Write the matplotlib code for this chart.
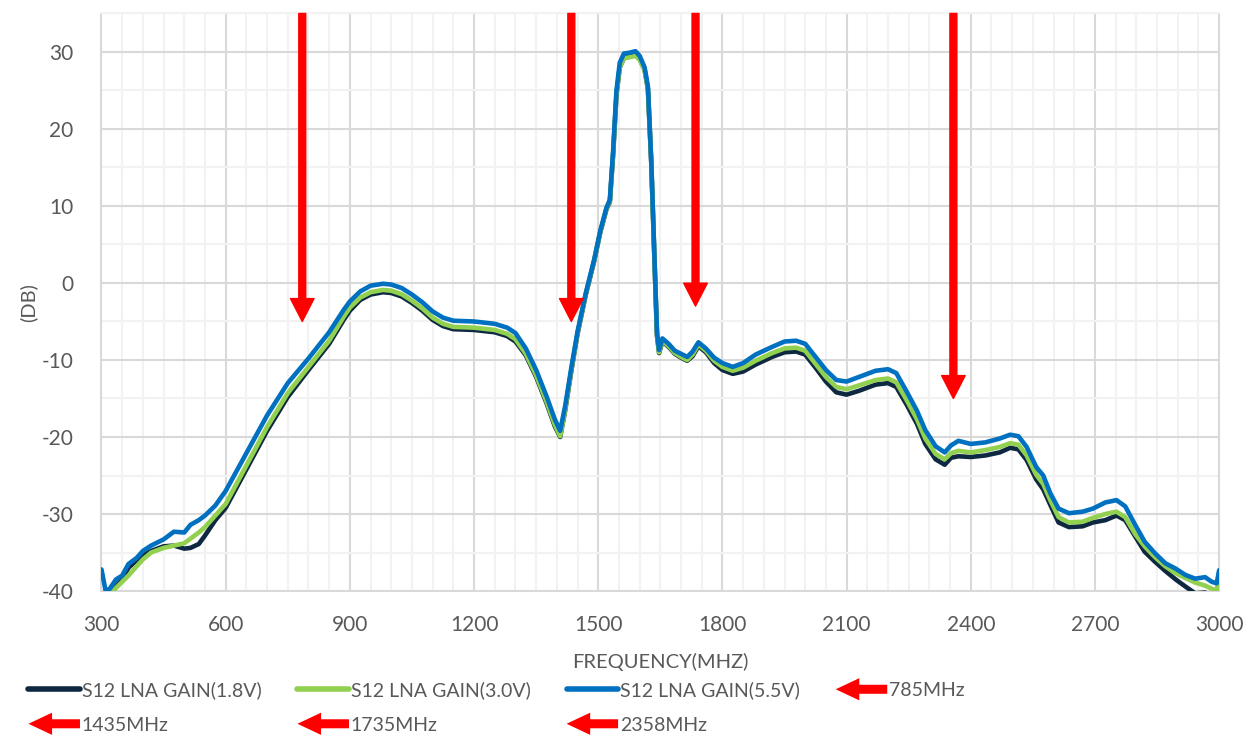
import numpy as np
import matplotlib
matplotlib.use('Agg')
import matplotlib.pyplot as plt
import matplotlib.patches as mpatches
from matplotlib.lines import Line2D
from matplotlib.legend_handler import HandlerPatch
from matplotlib.ticker import MultipleLocator

plt.rcParams['font.family'] = ['Lato', 'DejaVu Sans']
plt.rcParams['axes.unicode_minus'] = False

# sweep points (MHz)
freq = [300, 310, 320, 335, 350, 365, 385, 400, 420, 450, 475, 500, 515, 535, 550, 575,
        600, 650, 700, 750, 800, 850, 885, 900, 925, 950, 980, 1000, 1025, 1050, 1075,
        1100, 1125, 1150, 1200, 1250, 1280, 1300, 1325, 1350, 1375, 1395, 1408, 1420,
        1435, 1450, 1470, 1490, 1505, 1520, 1528, 1536, 1544, 1552, 1562, 1575, 1590,
        1600, 1612, 1620, 1628, 1636, 1642, 1647, 1655, 1670, 1685, 1700, 1715, 1728,
        1742, 1760, 1780, 1800, 1825, 1850, 1880, 1920, 1950, 1978, 2000, 2025, 2050,
        2075, 2100, 2130, 2170, 2200, 2220, 2245, 2270, 2290, 2315, 2337, 2352, 2370,
        2400, 2435, 2470, 2495, 2515, 2535, 2558, 2575, 2592, 2612, 2637, 2670, 2695,
        2725, 2752, 2773, 2797, 2820, 2845, 2870, 2895, 2918, 2942, 2966, 2982, 2994, 3000]

gain_18v = [-42.0, -41.2, -40.6, -39.4, -38.5, -37.0, -36.0, -35.4, -34.8, -34.2, -34.1,
            -34.5, -34.4, -33.9, -32.8, -30.8, -29.2, -24.2, -19.2, -14.8, -11.3, -7.9,
            -4.8, -3.6, -2.2, -1.5, -1.2, -1.3, -1.75, -2.6, -3.6, -4.8, -5.6, -6.0,
            -6.1, -6.4, -6.9, -7.6, -9.4, -12.2, -15.6, -18.6, -20.0, -16.6, -11.4,
            -6.6, -1.5, 2.8, 6.6, 9.6, 10.5, 16.7, 24.4, 28.0, 29.2, 29.4, 29.6, 29.1,
            27.7, 25.2, 15.7, 2.7, -6.9, -9.1, -7.6, -8.3, -9.2, -9.7, -10.1, -9.5,
            -8.2, -9.0, -10.4, -11.3, -11.8, -11.5, -10.6, -9.6, -9.0, -8.9, -9.3,
            -11.0, -12.8, -14.2, -14.5, -14.0, -13.2, -13.0, -13.5, -15.8, -18.3,
            -20.9, -22.9, -23.6, -22.7, -22.5, -22.6, -22.4, -22.0, -21.4, -21.6,
            -23.0, -25.5, -26.8, -28.8, -31.1, -31.7, -31.6, -31.1, -30.8, -30.2,
            -30.8, -32.9, -34.9, -36.2, -37.4, -38.5, -39.4, -40.3, -40.2, -40.6,
            -41.0, -41.5]

gain_30v = [-41.5, -41.0, -40.5, -39.6, -38.8, -38.0, -36.8, -35.9, -35.0, -34.4, -34.1,
            -33.8, -33.2, -32.4, -31.7, -30.2, -28.7, -23.7, -18.7, -14.3, -10.9, -7.5,
            -4.4, -3.2, -1.9, -1.2, -0.9, -1.0, -1.45, -2.3, -3.3, -4.5, -5.3, -5.7,
            -5.8, -6.1, -6.6, -7.3, -9.2, -12.0, -15.4, -18.4, -19.9, -16.5, -11.3,
            -6.5, -1.4, 2.9, 6.7, 9.7, 10.6, 16.8, 24.5, 28.0, 29.2, 29.3, 29.5, 29.0,
            27.6, 25.2, 15.8, 2.8, -6.8, -9.0, -7.5, -8.2, -9.1, -9.6, -10.0, -9.3,
            -8.0, -8.8, -10.1, -10.9, -11.4, -11.0, -10.1, -9.1, -8.5, -8.4, -8.8,
            -10.5, -12.2, -13.5, -13.8, -13.3, -12.6, -12.4, -12.9, -15.2, -17.7,
            -20.2, -22.2, -22.9, -22.1, -21.8, -22.0, -21.7, -21.3, -20.8, -21.0,
            -22.4, -24.9, -26.1, -28.2, -30.4, -31.1, -31.0, -30.5, -30.0, -29.7,
            -30.4, -32.6, -34.2, -35.6, -36.8, -37.7, -38.3, -38.9, -39.3, -39.7,
            -40.0, -37.5]

gain_55v = [-37.2, -40.0, -39.7, -38.5, -38.0, -36.5, -35.7, -34.8, -34.1, -33.3, -32.3,
            -32.4, -31.4, -30.8, -30.2, -28.9, -27.0, -22.1, -17.2, -13.0, -9.8, -6.4,
            -3.5, -2.4, -1.1, -0.35, -0.1, -0.2, -0.65, -1.5, -2.5, -3.7, -4.5, -4.9,
            -5.0, -5.3, -5.8, -6.5, -8.5, -11.3, -14.7, -17.7, -19.2, -16.0, -11.0,
            -6.3, -1.3, 3.0, 6.8, 9.8, 10.8, 17.2, 25.0, 28.6, 29.8, 29.9, 30.1, 29.5,
            28.0, 25.5, 16.0, 3.0, -6.5, -8.7, -7.2, -7.9, -8.8, -9.2, -9.6, -8.9,
            -7.7, -8.5, -9.7, -10.4, -10.9, -10.4, -9.3, -8.3, -7.6, -7.5, -7.9,
            -9.6, -11.3, -12.6, -12.8, -12.2, -11.4, -11.2, -11.7, -14.1, -16.6,
            -19.1, -21.2, -22.0, -21.1, -20.5, -20.9, -20.7, -20.2, -19.7, -19.9,
            -21.3, -23.9, -25.0, -27.3, -29.3, -29.9, -29.7, -29.3, -28.5, -28.2,
            -29.0, -31.4, -33.6, -35.1, -36.4, -37.1, -37.9, -38.4, -38.2, -38.8,
            -39.0, -37.3]

series_labels = ['S12 LNA GAIN(1.8V)', 'S12 LNA GAIN(3.0V)', 'S12 LNA GAIN(5.5V)']
series_colors = ['#0E2841', '#92D050', '#0070C0']

# marker arrows: frequency and where the tip lands (dB)
marker_freqs = [785, 1435, 1735, 2358]
marker_tips = [-5, -5, -3, -15]

GRID_MAJOR = '#D9D9D9'
GRID_MINOR = '#F2F2F2'
TEXT = '#595959'
RED = '#FF0000'


def left_arrow(legend, orig_handle, xdescent, ydescent, width, height, fontsize):
    return mpatches.FancyArrow(width - xdescent, height / 2 - ydescent, -width, 0,
                               width=6.5, head_width=16, head_length=17,
                               length_includes_head=True)


fig = plt.figure(figsize=(12.53, 7.36), dpi=100)
ax = fig.add_axes([0.081, 0.197, 0.892, 0.7847])

for vals, lab, col in zip([gain_18v, gain_30v, gain_55v], series_labels, series_colors):
    ax.plot(freq, vals, color=col, lw=3.3, label=lab, solid_joinstyle='round',
            solid_capstyle='round', zorder=3)

for f, tip in zip(marker_freqs, marker_tips):
    ax.annotate('', xy=(f, tip), xytext=(f, 35),
                arrowprops=dict(arrowstyle='simple,head_length=16.5,head_width=17,tail_width=5',
                                mutation_scale=1, color=RED, shrinkA=0, shrinkB=0),
                zorder=5)

ax.set_xlim(300, 3000)
ax.set_ylim(-40, 35)
ax.xaxis.set_major_locator(MultipleLocator(300))
ax.xaxis.set_minor_locator(MultipleLocator(50))
ax.yaxis.set_major_locator(MultipleLocator(10))
ax.yaxis.set_minor_locator(MultipleLocator(5))
ax.grid(which='minor', color=GRID_MINOR, lw=1.5)
ax.grid(which='major', color=GRID_MAJOR, lw=1.5)
ax.set_axisbelow(True)
ax.tick_params(which='both', length=0, labelsize=15, labelcolor=TEXT)
ax.tick_params(axis='x', pad=17)
ax.tick_params(axis='y', pad=20)

for side in ['left', 'bottom', 'right']:
    ax.spines[side].set_color(GRID_MAJOR)
    ax.spines[side].set_linewidth(1.5)
ax.spines['top'].set_color(GRID_MINOR)
ax.spines['top'].set_linewidth(1.5)

ax.set_xlabel('FREQUENCY(MHZ)', fontsize=14.5, color=TEXT, labelpad=13)
ax.set_ylabel('(DB)', fontsize=14.5, color=TEXT, labelpad=3)

line_handles = [Line2D([], [], color=c, lw=4, solid_capstyle='round') for c in series_colors]
arrow_handles = [mpatches.Patch(facecolor=RED, edgecolor='none') for _ in marker_freqs]
arrow_labels = [f'{f}MHz' for f in marker_freqs]

# legend fills column by column, so interleave to get two rows
handles = [line_handles[0], arrow_handles[1], line_handles[1], arrow_handles[2],
           line_handles[2], arrow_handles[3], arrow_handles[0]]
labels = [series_labels[0], arrow_labels[1], series_labels[1], arrow_labels[2],
          series_labels[2], arrow_labels[3], arrow_labels[0]]

fig.legend(handles, labels, ncol=4, loc='lower left', bbox_to_anchor=(0.0196, -0.002),
           frameon=False, fontsize=14, labelcolor=TEXT, handlelength=2.65,
           handletextpad=0.08, columnspacing=1.86, labelspacing=0.9,
           borderpad=0.2, borderaxespad=0.0,
           handler_map={mpatches.Patch: HandlerPatch(patch_func=left_arrow)})

fig.savefig('out.png', dpi=100)
